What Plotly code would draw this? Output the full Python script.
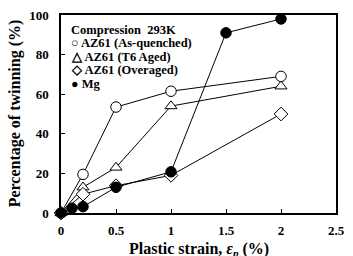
import plotly.graph_objects as go

strain_aq = [0, 0.2, 0.5, 1, 2]
twin_aq = [0, 19.5, 53.5, 61.5, 69]
strain_t6 = [0, 0.2, 0.5, 1, 2]
twin_t6 = [0, 13, 23, 54, 64]
strain_ov = [0, 0.2, 0.5, 1, 2]
twin_ov = [0, 9.5, 13.8, 19, 50]
strain_mg = [0, 0.1, 0.2, 0.5, 1, 1.5, 2]
twin_mg = [0, 2.4, 3.2, 13, 20.8, 91, 98]

x_ticks = [0, 0.5, 1, 1.5, 2, 2.5]
x_ticklabels = ["0", "0.5", "1", "1.5", "2", "2.5"]
y_ticks = [0, 20, 40, 60, 80, 100]

legend_title = "Compression  293K"
legend_symbols = ["\u25cb", "\u25b3", "\u25c7", "\u25cf"]
legend_names = ["AZ61 (As-quenched)", "AZ61 (T6 Aged)", "AZ61 (Overaged)", "Mg"]

FONT = "Liberation Serif"

fig = go.Figure()
series = [
    (legend_names[0], strain_aq, twin_aq, "circle", "white"),
    (legend_names[1], strain_t6, twin_t6, "triangle-up", "white"),
    (legend_names[2], strain_ov, twin_ov, "diamond", "white"),
    (legend_names[3], strain_mg, twin_mg, "circle", "black"),
]
for name, xs, ys, sym, fill in series:
    fig.add_trace(go.Scatter(
        x=xs, y=ys, name=name, mode="lines+markers",
        line=dict(color="black", width=1),
        marker=dict(symbol=sym, size=10.5,
                    color=fill, line=dict(color="black", width=1)),
        cliponaxis=False, showlegend=False,
    ))

legend_lines = ["<b>" + legend_title + "</b>"] + [
    "<b>" + s + " " + n + "</b>" for s, n in zip(legend_symbols, legend_names)
]
for i, t in enumerate(legend_lines):
    fig.add_annotation(
        x=0.03, y=0.925 - i * 0.068, xref="paper", yref="paper",
        xanchor="left", yanchor="middle", showarrow=False,
        text=t,
        font=dict(family=FONT, size=12.5, color="black"),
    )

# axis titles
fig.add_annotation(
    x=0.5, y=-0.182, xref="paper", yref="paper", xanchor="center", yanchor="middle",
    showarrow=False, text="<b>Plastic strain, <i>\u03b5<sub>p</sub></i> (%)</b>",
    font=dict(family=FONT, size=16, color="black"),
)
fig.add_annotation(
    x=-0.166, y=0.505, xref="paper", yref="paper", xanchor="center", yanchor="middle",
    showarrow=False, textangle=-90, text="<b>Percentage of twinning (%)</b>",
    font=dict(family=FONT, size=16, color="black"),
)

axis_common = dict(
    showline=True, linecolor="black", linewidth=1.5, mirror=True,
    ticks="inside", ticklen=4, tickcolor="black", showgrid=False, zeroline=False,
    tickfont=dict(family=FONT, size=13, color="black", weight="bold"),
)
fig.update_xaxes(range=[0, 2.5], tickvals=x_ticks, ticktext=x_ticklabels,
                 ticklabelstandoff=5, **axis_common)
fig.update_yaxes(range=[0, 100], tickvals=y_ticks, ticklabelstandoff=8, **axis_common)
fig.update_layout(
    width=353, height=256,
    margin=dict(l=61, r=8, t=15, b=43),
    paper_bgcolor="white", plot_bgcolor="white",
)
fig.write_html("out.html", config={"displayModeBar": False},
               post_script="document.body.style.margin='0';")
